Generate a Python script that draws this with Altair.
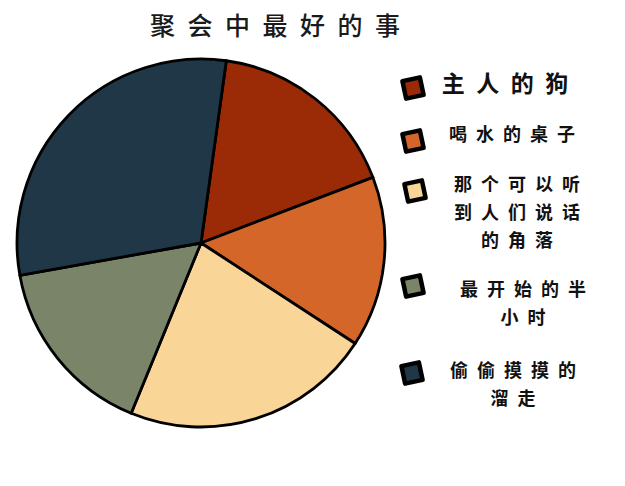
import altair as alt
import pandas as pd
import math

# ---- data ----
categories = ["主人的狗", "喝水的桌子", "那个可以听到人们说话的角落", "最开始的半小时", "偷偷摸摸的溜走"]
values = [17, 15, 22, 16, 30]
legend_lines = [["主人的狗"], ["喝水的桌子"], ["那个可以听", "到人们说话", "的角落"], ["最开始的半", "小时"], ["偷偷摸摸的", "溜走"]]
title_text = "聚会中最好的事"
colors = ["#9A2B06", "#D4662A", "#F9D597", "#798468", "#1F3747"]

# ---- layout ----
W, H = 625, 486
cx, cy, R = 201, 243, 184
start = math.radians(7.9)
square_pos = [(413, 88), (413, 141), (415, 191), (413, 286), (412, 373)]
text_x = [505, 512, 517, 523, 513]
text_y0 = [85, 136, 186, 291, 372]
line_gap = 28
text_size = [23, 18, 18, 18, 18]

SP = "\u2002"
def spaced(s):
    return SP.join(list(s))

pie_df = pd.DataFrame({"cat": categories, "val": values, "order": list(range(len(categories)))})
sq_df = pd.DataFrame({"cat": categories, "x": [p[0] for p in square_pos], "y": [p[1] for p in square_pos]})
rows = []
for i, lines in enumerate(legend_lines):
    for j, ln in enumerate(lines):
        rows.append({"t": spaced(ln), "x": text_x[i], "y": text_y0[i] + j * line_gap, "s": text_size[i]})
txt_df = pd.DataFrame(rows)
title_df = pd.DataFrame({"t": [spaced(title_text)]})

color_scale = alt.Scale(domain=categories, range=colors)
FONT = "Noto Sans CJK SC"

pie = alt.Chart(pie_df).mark_arc(outerRadius=R, stroke="black", strokeWidth=2.8, strokeJoin="round").encode(
    theta=alt.Theta("val:Q", scale=alt.Scale(range=[start, start + 2 * math.pi]), stack=True),
    order=alt.Order("order:Q"),
    color=alt.Color("cat:N", scale=color_scale, legend=None),
    x=alt.value(cx), y=alt.value(cy),
)

squares = alt.Chart(sq_df).mark_point(shape="square", filled=True, size=320, stroke="black",
                                      strokeWidth=4.5, opacity=1, angle=348, strokeJoin="round").encode(
    x=alt.X("x:Q", scale=None), y=alt.Y("y:Q", scale=None),
    color=alt.Color("cat:N", scale=color_scale, legend=None),
)

texts = alt.Chart(txt_df).mark_text(font=FONT, color="#111111", align="center", baseline="middle",
                                    fontWeight="bold").encode(
    x=alt.X("x:Q", scale=None), y=alt.Y("y:Q", scale=None),
    size=alt.Size("s:Q", scale=None, legend=None), text="t:N",
)

title = alt.Chart(title_df).mark_text(font=FONT, fontSize=25, color="#1a1a1a", align="center",
                                      baseline="middle", fontWeight=500).encode(
    x=alt.value(275), y=alt.value(27), text="t:N",
)

chart = alt.layer(pie, squares, texts, title).properties(
    width=W, height=H, autosize=alt.AutoSizeParams(type="none"), padding=0,
).configure_view(stroke=None, strokeWidth=0)

chart.save("out.html", embed_options={"renderer": "svg", "actions": False})
